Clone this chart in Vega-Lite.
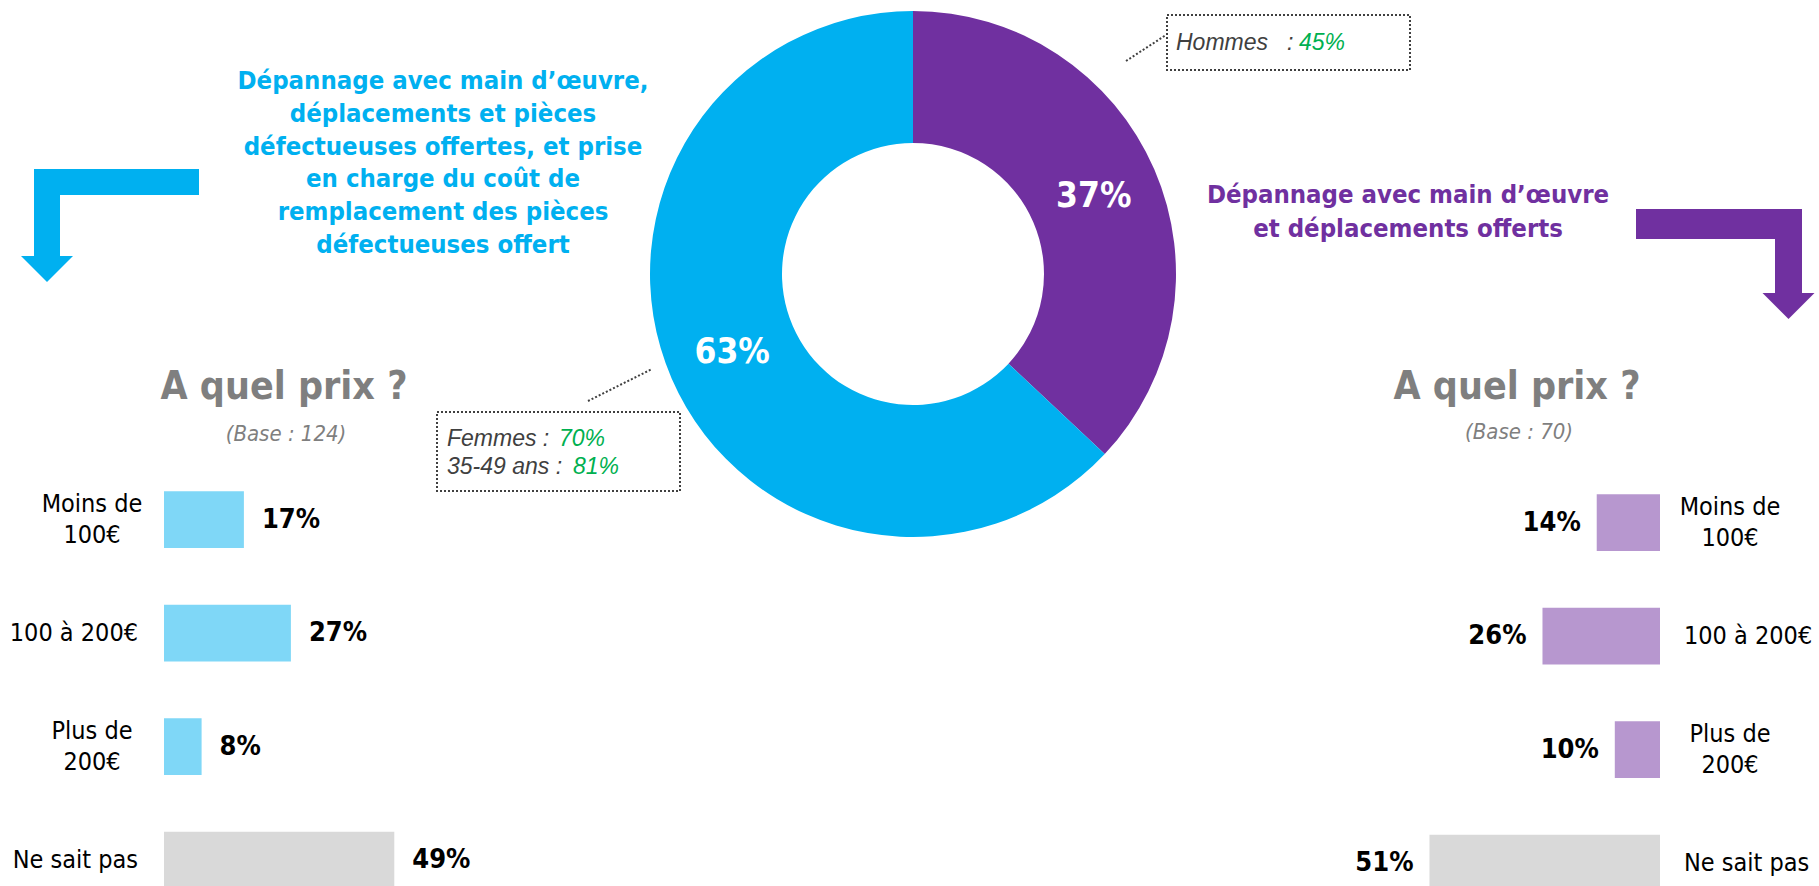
{
  "$schema": "https://vega.github.io/schema/vega-lite/v6.json",
  "width": 1819,
  "height": 886,
  "padding": 0,
  "autosize": {"type": "none"},
  "background": "white",
  "config": {
    "view": {"stroke": null},
    "axis": {"disable": true},
    "legend": {"disable": true},
    "text": {"font": "DejaVu Sans Condensed, DejaVu Sans, sans-serif"}
  },
  "datasets": {
    "donut": [
      {"offre": "Dépannage avec main d’œuvre et déplacements offerts", "part": 0.37},
      {"offre": "Dépannage avec main d’œuvre, déplacements et pièces défectueuses offertes, et prise en charge du coût de remplacement des pièces défectueuses offert", "part": 0.63}
    ],
    "left": [
      {"prix": "Moins de 100€", "lignes": ["Moins de", "100€"], "part": 0.17},
      {"prix": "100 à 200€", "lignes": ["100 à 200€"], "part": 0.27},
      {"prix": "Plus de 200€", "lignes": ["Plus de", "200€"], "part": 0.08},
      {"prix": "Ne sait pas", "lignes": ["Ne sait pas"], "part": 0.49}
    ],
    "right": [
      {"prix": "Moins de 100€", "lignes": ["Moins de", "100€"], "part": 0.14},
      {"prix": "100 à 200€", "lignes": ["100 à 200€"], "part": 0.26},
      {"prix": "Plus de 200€", "lignes": ["Plus de", "200€"], "part": 0.10},
      {"prix": "Ne sait pas", "lignes": ["Ne sait pas"], "part": 0.51}
    ]
  },
  "resolve": {"scale": {"x": "independent", "y": "independent", "color": "independent", "theta": "independent"}},
  "layer": [
    {
      "layer": [
        {
          "data": {"name": "donut"},
          "mark": {"type": "arc", "outerRadius": 263, "innerRadius": 131},
          "encoding": {
            "x": {"datum": 913, "type": "quantitative", "scale": {"domain": [0, 1819], "nice": false, "zero": false}},
            "y": {"datum": 274, "type": "quantitative", "scale": {"domain": [0, 886], "nice": false, "zero": false, "reverse": true}},
            "theta": {"field": "part", "type": "quantitative", "stack": true},
            "order": {"field": "part", "type": "quantitative", "sort": "ascending"},
            "color": {"field": "offre", "type": "nominal", "scale": {"domain": ["Dépannage avec main d’œuvre et déplacements offerts", "Dépannage avec main d’œuvre, déplacements et pièces défectueuses offertes, et prise en charge du coût de remplacement des pièces défectueuses offert"], "range": ["#7030A0", "#00B0F0"]}}
          }
        },
        {
          "data": {"name": "donut"},
          "mark": {"type": "text", "radius": 197, "fontSize": 35, "fontWeight": "bold", "fill": "white", "baseline": "middle", "align": "center"},
          "encoding": {
            "x": {"datum": 913, "type": "quantitative"},
            "y": {"datum": 274, "type": "quantitative"},
            "theta": {"field": "part", "type": "quantitative", "stack": true},
            "order": {"field": "part", "type": "quantitative", "sort": "ascending"},
            "text": {"field": "part", "type": "quantitative", "format": ".0%"}
          }
        },
        {
          "data": {"values": [{}]},
          "mark": {"type": "text", "text": ["Dépannage avec main d’œuvre,", "déplacements et pièces", "défectueuses offertes, et prise", "en charge du coût de", "remplacement des pièces", "défectueuses offert"], "fontSize": 25.5, "fontWeight": "bold", "fill": "#00B0F0", "align": "center", "baseline": "middle", "lineHeight": 32.8},
          "encoding": {"x": {"datum": 443, "type": "quantitative"}, "y": {"datum": 81, "type": "quantitative"}}
        },
        {
          "data": {"values": [{}]},
          "mark": {"type": "text", "text": ["Dépannage avec main d’œuvre", "et déplacements offerts"], "fontSize": 25.5, "fontWeight": "bold", "fill": "#7030A0", "align": "center", "baseline": "middle", "lineHeight": 34},
          "encoding": {"x": {"datum": 1408, "type": "quantitative"}, "y": {"datum": 195, "type": "quantitative"}}
        },
        {
          "data": {"values": [{}]},
          "mark": {"type": "text", "text": "A quel prix ?", "fontSize": 39, "fontWeight": "bold", "fill": "#7F7F7F", "align": "center", "baseline": "middle"},
          "encoding": {"x": {"datum": 284, "type": "quantitative"}, "y": {"datum": 387, "type": "quantitative"}}
        },
        {
          "data": {"values": [{}]},
          "mark": {"type": "text", "text": "A quel prix ?", "fontSize": 39, "fontWeight": "bold", "fill": "#7F7F7F", "align": "center", "baseline": "middle"},
          "encoding": {"x": {"datum": 1517, "type": "quantitative"}, "y": {"datum": 387, "type": "quantitative"}}
        },
        {
          "data": {"values": [{}]},
          "mark": {"type": "text", "text": "(Base : 124)", "fontSize": 22, "fontStyle": "italic", "fill": "#7F7F7F", "align": "center", "baseline": "middle"},
          "encoding": {"x": {"datum": 286, "type": "quantitative"}, "y": {"datum": 434, "type": "quantitative"}}
        },
        {
          "data": {"values": [{}]},
          "mark": {"type": "text", "text": "(Base : 70)", "fontSize": 22, "fontStyle": "italic", "fill": "#7F7F7F", "align": "center", "baseline": "middle"},
          "encoding": {"x": {"datum": 1519, "type": "quantitative"}, "y": {"datum": 432, "type": "quantitative"}}
        },
        {
          "data": {"values": [{}]},
          "mark": {"type": "rect", "color": "#00B0F0"},
          "encoding": {"x": {"datum": 34, "type": "quantitative"}, "x2": {"datum": 199}, "y": {"datum": 169, "type": "quantitative"}, "y2": {"datum": 195}}
        },
        {
          "data": {"values": [{}]},
          "mark": {"type": "rect", "color": "#00B0F0"},
          "encoding": {"x": {"datum": 34, "type": "quantitative"}, "x2": {"datum": 60}, "y": {"datum": 169, "type": "quantitative"}, "y2": {"datum": 257}}
        },
        {
          "data": {"values": [{}]},
          "mark": {"type": "point", "shape": "M-1,-0.5L1,-0.5L0,0.5Z", "size": 2704, "filled": true, "color": "#00B0F0", "opacity": 1, "strokeWidth": 0},
          "encoding": {"x": {"datum": 47, "type": "quantitative"}, "y": {"datum": 269, "type": "quantitative"}}
        },
        {
          "data": {"values": [{}]},
          "mark": {"type": "rect", "color": "#7030A0"},
          "encoding": {"x": {"datum": 1636, "type": "quantitative"}, "x2": {"datum": 1802}, "y": {"datum": 209, "type": "quantitative"}, "y2": {"datum": 239}}
        },
        {
          "data": {"values": [{}]},
          "mark": {"type": "rect", "color": "#7030A0"},
          "encoding": {"x": {"datum": 1775, "type": "quantitative"}, "x2": {"datum": 1802}, "y": {"datum": 209, "type": "quantitative"}, "y2": {"datum": 294}}
        },
        {
          "data": {"values": [{}]},
          "mark": {"type": "point", "shape": "M-1,-0.5L1,-0.5L0,0.5Z", "size": 2704, "filled": true, "color": "#7030A0", "opacity": 1, "strokeWidth": 0},
          "encoding": {"x": {"datum": 1788.5, "type": "quantitative"}, "y": {"datum": 306, "type": "quantitative"}}
        },
        {
          "data": {"values": [{}]},
          "mark": {"type": "rect", "filled": false, "stroke": "#404040", "strokeWidth": 2, "strokeDash": [2, 2]},
          "encoding": {"x": {"datum": 1167, "type": "quantitative"}, "x2": {"datum": 1410}, "y": {"datum": 15, "type": "quantitative"}, "y2": {"datum": 70}}
        },
        {
          "data": {"values": [{}]},
          "mark": {"type": "rect", "filled": false, "stroke": "#404040", "strokeWidth": 2, "strokeDash": [2, 2]},
          "encoding": {"x": {"datum": 437, "type": "quantitative"}, "x2": {"datum": 680}, "y": {"datum": 412, "type": "quantitative"}, "y2": {"datum": 491}}
        },
        {
          "data": {"values": [{}]},
          "mark": {"type": "rule", "stroke": "#404040", "strokeWidth": 2, "strokeDash": [2, 2]},
          "encoding": {"x": {"datum": 1126, "type": "quantitative"}, "x2": {"datum": 1166}, "y": {"datum": 61, "type": "quantitative"}, "y2": {"datum": 35}}
        },
        {
          "data": {"values": [{}]},
          "mark": {"type": "rule", "stroke": "#404040", "strokeWidth": 2, "strokeDash": [2, 2]},
          "encoding": {"x": {"datum": 588, "type": "quantitative"}, "x2": {"datum": 652}, "y": {"datum": 401, "type": "quantitative"}, "y2": {"datum": 369}}
        },
        {
          "data": {"values": [{}]},
          "mark": {"type": "text", "text": "Hommes", "font": "Liberation Sans", "fontSize": 23, "fontStyle": "italic", "fill": "#404040", "align": "left", "baseline": "middle"},
          "encoding": {"x": {"datum": 1176, "type": "quantitative"}, "y": {"datum": 43, "type": "quantitative"}}
        },
        {
          "data": {"values": [{}]},
          "mark": {"type": "text", "text": ":", "font": "Liberation Sans", "fontSize": 23, "fontStyle": "italic", "fill": "#404040", "align": "left", "baseline": "middle"},
          "encoding": {"x": {"datum": 1287, "type": "quantitative"}, "y": {"datum": 43, "type": "quantitative"}}
        },
        {
          "data": {"values": [{}]},
          "mark": {"type": "text", "text": "45%", "font": "Liberation Sans", "fontSize": 23, "fontStyle": "italic", "fill": "#00B050", "align": "left", "baseline": "middle"},
          "encoding": {"x": {"datum": 1299, "type": "quantitative"}, "y": {"datum": 43, "type": "quantitative"}}
        },
        {
          "data": {"values": [{}]},
          "mark": {"type": "text", "text": "Femmes :", "font": "Liberation Sans", "fontSize": 23, "fontStyle": "italic", "fill": "#404040", "align": "left", "baseline": "middle"},
          "encoding": {"x": {"datum": 447, "type": "quantitative"}, "y": {"datum": 439, "type": "quantitative"}}
        },
        {
          "data": {"values": [{}]},
          "mark": {"type": "text", "text": "70%", "font": "Liberation Sans", "fontSize": 23, "fontStyle": "italic", "fill": "#00B050", "align": "left", "baseline": "middle"},
          "encoding": {"x": {"datum": 559, "type": "quantitative"}, "y": {"datum": 439, "type": "quantitative"}}
        },
        {
          "data": {"values": [{}]},
          "mark": {"type": "text", "text": "35-49 ans :", "font": "Liberation Sans", "fontSize": 23, "fontStyle": "italic", "fill": "#404040", "align": "left", "baseline": "middle"},
          "encoding": {"x": {"datum": 447, "type": "quantitative"}, "y": {"datum": 467, "type": "quantitative"}}
        },
        {
          "data": {"values": [{}]},
          "mark": {"type": "text", "text": "81%", "font": "Liberation Sans", "fontSize": 23, "fontStyle": "italic", "fill": "#00B050", "align": "left", "baseline": "middle"},
          "encoding": {"x": {"datum": 573, "type": "quantitative"}, "y": {"datum": 467, "type": "quantitative"}}
        }
      ]
    },
    {
      "data": {"name": "left"},
      "encoding": {
        "y": {"field": "prix", "type": "nominal", "sort": null, "scale": {"domain": ["Moins de 100€", "100 à 200€", "Plus de 200€", "Ne sait pas"], "range": [462.75, 916.75], "paddingInner": 0.5, "paddingOuter": 0.25}}
      },
      "layer": [
        {
          "mark": {"type": "bar"},
          "encoding": {
            "x": {"field": "part", "type": "quantitative", "scale": {"domain": [0, 1], "range": [164, 634], "nice": false}},
            "color": {"field": "prix", "type": "nominal", "scale": {"domain": ["Moins de 100€", "100 à 200€", "Plus de 200€", "Ne sait pas"], "range": ["#7FD7F7", "#7FD7F7", "#7FD7F7", "#D9D9D9"]}}
          }
        },
        {
          "mark": {"type": "text", "align": "left", "dx": 18, "baseline": "middle", "fontWeight": "bold", "fontSize": 27, "fill": "#000000"},
          "encoding": {
            "x": {"field": "part", "type": "quantitative"},
            "text": {"field": "part", "type": "quantitative", "format": ".0%"}
          }
        },
        {
          "transform": [{"filter": "length(datum.lignes) == 1"}],
          "mark": {"type": "text", "align": "right", "dx": -26, "baseline": "middle", "fontSize": 25, "fill": "#000000"},
          "encoding": {
            "x": {"datum": 0, "type": "quantitative"},
            "text": {"field": "lignes"}
          }
        },
        {
          "transform": [{"filter": "length(datum.lignes) == 2"}],
          "mark": {"type": "text", "align": "center", "dx": -72, "dy": -15.5, "baseline": "middle", "fontSize": 25, "lineHeight": 31, "fill": "#000000"},
          "encoding": {
            "x": {"datum": 0, "type": "quantitative"},
            "text": {"field": "lignes"}
          }
        }
      ]
    },
    {
      "data": {"name": "right"},
      "encoding": {
        "y": {"field": "prix", "type": "nominal", "sort": null, "scale": {"domain": ["Moins de 100€", "100 à 200€", "Plus de 200€", "Ne sait pas"], "range": [465.75, 919.75], "paddingInner": 0.5, "paddingOuter": 0.25}}
      },
      "layer": [
        {
          "mark": {"type": "bar"},
          "encoding": {
            "x": {"field": "part", "type": "quantitative", "scale": {"domain": [0, 1], "range": [1660, 1208], "nice": false}},
            "color": {"field": "prix", "type": "nominal", "scale": {"domain": ["Moins de 100€", "100 à 200€", "Plus de 200€", "Ne sait pas"], "range": ["#B797CF", "#B797CF", "#B797CF", "#D9D9D9"]}}
          }
        },
        {
          "mark": {"type": "text", "align": "right", "dx": -16, "baseline": "middle", "fontWeight": "bold", "fontSize": 27, "fill": "#000000"},
          "encoding": {
            "x": {"field": "part", "type": "quantitative"},
            "text": {"field": "part", "type": "quantitative", "format": ".0%"}
          }
        },
        {
          "transform": [{"filter": "length(datum.lignes) == 1"}],
          "mark": {"type": "text", "align": "left", "dx": 24, "baseline": "middle", "fontSize": 25, "fill": "#000000"},
          "encoding": {
            "x": {"datum": 0, "type": "quantitative"},
            "text": {"field": "lignes"}
          }
        },
        {
          "transform": [{"filter": "length(datum.lignes) == 2"}],
          "mark": {"type": "text", "align": "center", "dx": 70, "dy": -15.5, "baseline": "middle", "fontSize": 25, "lineHeight": 31, "fill": "#000000"},
          "encoding": {
            "x": {"datum": 0, "type": "quantitative"},
            "text": {"field": "lignes"}
          }
        }
      ]
    }
  ]
}
